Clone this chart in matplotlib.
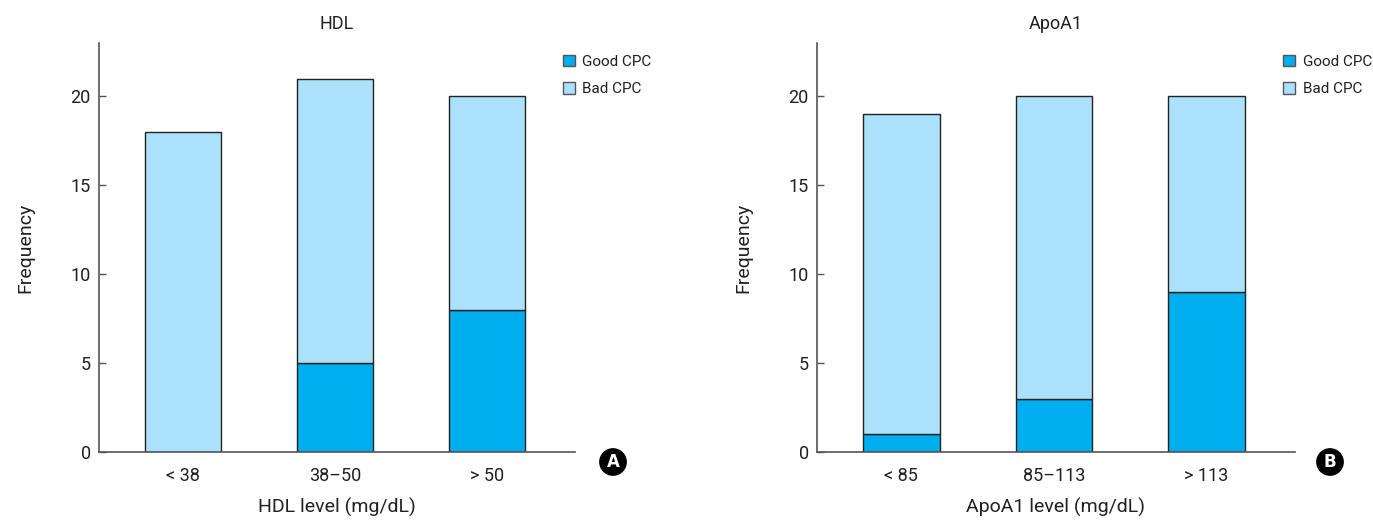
import matplotlib
matplotlib.use("Agg")
import matplotlib.pyplot as plt
from matplotlib.patches import Patch
import numpy as np

plt.rcParams['font.family'] = ['Roboto', 'DejaVu Sans']
plt.rcParams['text.color'] = '#231f20'
plt.rcParams['axes.labelcolor'] = '#231f20'
plt.rcParams['xtick.labelcolor'] = '#231f20'
plt.rcParams['ytick.labelcolor'] = '#231f20'

hdl_categories = ["< 38", "38\u201350", "> 50"]
hdl_good = [0, 5, 8]
hdl_bad = [18, 16, 12]

apo_categories = ["< 85", "85\u2013113", "> 113"]
apo_good = [1, 3, 9]
apo_bad = [18, 17, 11]

titles = ["HDL", "ApoA1"]
xlabels = ["HDL level (mg/dL)", "ApoA1 level (mg/dL)"]
panel_letters = ["A", "B"]
yticks = [0, 5, 10, 15, 20]

good_color = "#00AEEF"
bad_color = "#ABE1FA"
edge = "#222222"
spine_color = "#555555"

fig = plt.figure(figsize=(13.73, 5.2), dpi=100)
W, H = 1373, 520
axes_px = [(99, 575), (817, 1295)]
bottom_px, top_px = 452, 43

datasets = [(hdl_categories, hdl_good, hdl_bad), (apo_categories, apo_good, apo_bad)]
letter_pos = [(613, 462), (1330, 462)]

for i, ((x0, x1), (cats, good, bad)) in enumerate(zip(axes_px, datasets)):
    ax = fig.add_axes([x0 / W, 1 - bottom_px / H, (x1 - x0) / W, (bottom_px - top_px) / H])
    x = np.arange(len(cats))
    ax.bar(x, good, width=0.5, color=good_color, edgecolor=edge, linewidth=1.0, zorder=2)
    ax.bar(x, bad, width=0.5, bottom=good, color=bad_color, edgecolor=edge, linewidth=1.0, zorder=2)
    ax.set_xlim(-0.553, 2.58)
    ax.set_ylim(0, 23)
    ax.set_yticks(yticks)
    ax.set_xticks(x)
    ax.set_xticklabels(cats, fontsize=13)
    ax.tick_params(axis='y', direction='in', length=5, width=1, color=spine_color, labelsize=13, pad=6)
    ax.tick_params(axis='x', length=0, pad=11)
    for s in ['top', 'right']:
        ax.spines[s].set_visible(False)
    for s in ['left', 'bottom']:
        ax.spines[s].set_color(spine_color)
        ax.spines[s].set_linewidth(1.2)
    ax.spines['bottom'].set_zorder(3)
    ax.set_title(titles[i], fontsize=13, pad=10)
    ax.set_xlabel(xlabels[i], fontsize=14, labelpad=9)
    ax.set_ylabel("Frequency", fontsize=14, labelpad=26)
    handles = [Patch(facecolor=good_color, edgecolor=spine_color, label="Good CPC"),
               Patch(facecolor=bad_color, edgecolor=spine_color, label="Bad CPC")]
    ax.legend(handles=handles, loc='upper right', bbox_to_anchor=(1.19, 1.005), frameon=False,
              fontsize=11, handlelength=0.8, handleheight=0.8, handletextpad=0.5, labelspacing=0.85)
    lx, ly = letter_pos[i]
    fig.text(lx / W, 1 - ly / H, panel_letters[i], color='white', fontsize=12, fontweight='bold',
             ha='center', va='center', family=['DejaVu Sans'],
             bbox=dict(boxstyle='circle,pad=0.25', fc='black', ec='black'))

fig.savefig("out.png", dpi=100)
